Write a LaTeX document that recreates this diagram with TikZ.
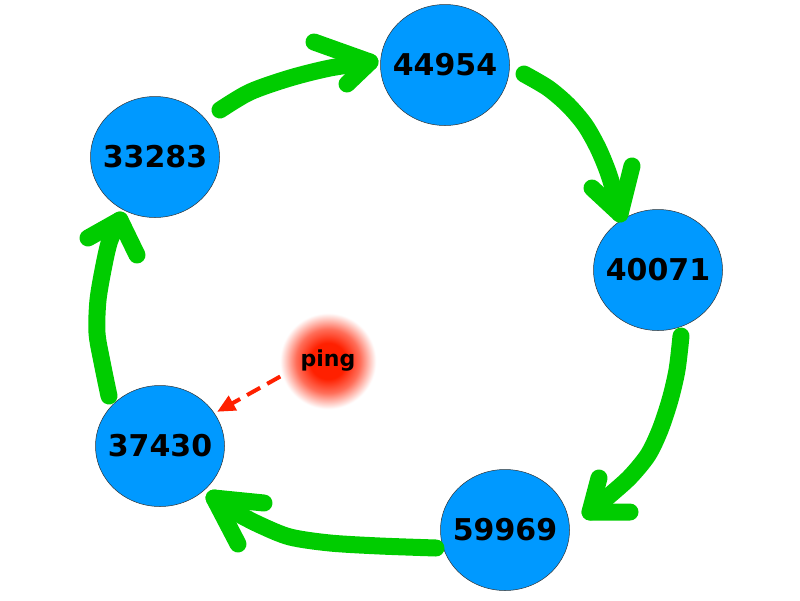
\documentclass[tikz,border=0pt]{standalone}
\usepackage{fontspec}
\setmainfont{DejaVu Sans}
\usetikzlibrary{shapes.geometric,arrows.meta}
\definecolor{peerblue}{RGB}{0,153,255}
\definecolor{ringgreen}{RGB}{0,204,0}
\definecolor{pingred}{RGB}{255,32,0}
\pgfdeclareradialshading{glow}{\pgfpoint{0bp}{0bp}}{color(0bp)=(pingred); color(9bp)=(pingred); color(16bp)=(pingred!65!white); color(24bp)=(white); color(50bp)=(white)}

\begin{document}
\begin{tikzpicture}[x=1pt,y=-1pt,
    peer/.style={ellipse,draw=black!80,line width=0.5pt,fill=peerblue,
        minimum width=129pt,minimum height=121pt,inner xsep=-7pt,inner ysep=0pt,
        font=\bfseries\fontsize{30}{36}\selectfont},
    ring/.style={draw=ringgreen,line width=17pt,line cap=round,line join=round},
    pingarrow/.style={draw=pingred,line width=4pt,dash pattern=on 15pt off 8pt,
        -{Triangle[length=18pt,width=16pt]}}]
    \useasboundingbox (0,0) rectangle (800,600);

    \node[peer] (n44954) at (445,65) {44954};
    \node[peer] (n33283) at (155,157) {33283};
    \node[peer] (n40071) at (658,270) {40071};
    \node[peer] (n59969) at (505,530) {59969};
    \node[peer] (n37430) at (160,446) {37430};
    \node[circle,minimum size=100pt,shade,shading=glow,
        font=\bfseries\fontsize{22}{26}\selectfont] (ping) at (328,361) {ping};

    % hand drawn ring of arrows
    \draw[ring] plot[smooth] coordinates {(220,110) (250,92) (290,78) (330,68) (370,62)};
    \draw[ring] (314,42) -- (370,62) -- (347,84);
    \draw[ring] plot[smooth] coordinates {(524,74) (548,88) (568,105) (585,125) (598,148) (608,172) (615,195) (620,214)};
    \draw[ring] (632,166) -- (620,214) -- (592,188);
    \draw[ring] plot[smooth] coordinates {(681,336) (677,370) (670,400) (660,430) (648,455) (630,477) (610,495) (590,512)};
    \draw[ring] (599,478) -- (590,512) -- (630,512);
    \draw[ring] plot[smooth] coordinates {(436,548) (380,546) (330,543) (290,537) (260,525) (235,512) (214,498)};
    \draw[ring] (264,503) -- (214,498) -- (238,544);
    \draw[ring] plot[smooth] coordinates {(109,396) (102,362) (97,333) (98,300) (104,265) (110,240) (120,220)};
    \draw[ring] (88,238) -- (120,220) -- (137,255);

    \draw[pingarrow,shorten >=3pt] (ping.198) -- (n37430.31);
\end{tikzpicture}
\end{document}
